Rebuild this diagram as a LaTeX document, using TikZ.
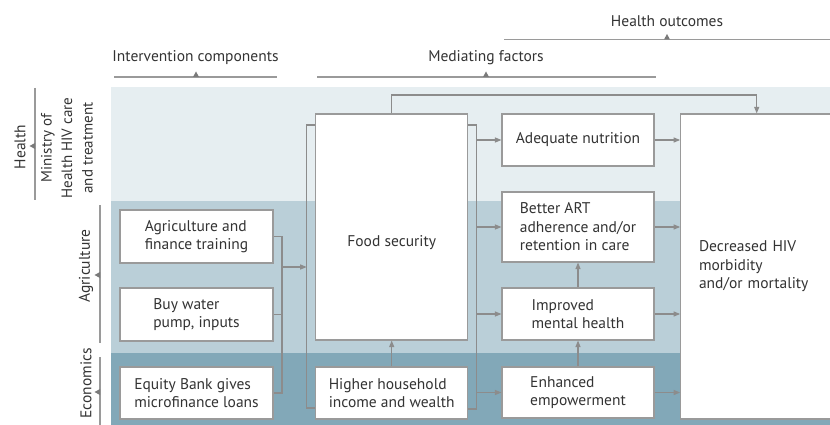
\documentclass[tikz,border=0pt]{standalone}
\usepackage{fontspec}
\setmainfont{PT Sans}
\usetikzlibrary{arrows.meta}
\definecolor{bandA}{HTML}{E6EEF1}
\definecolor{bandB}{HTML}{BACFD8}
\definecolor{bandC}{HTML}{82A8B8}
\definecolor{linec}{HTML}{8C8C8C}
\definecolor{boxc}{HTML}{9A9A9A}
\definecolor{markc}{HTML}{7A7A7A}
\definecolor{txt}{HTML}{333333}
\begin{document}
\begin{tikzpicture}[x=1pt,y=-1pt,
  font=\fontsize{15.5}{18.5}\selectfont,
  box/.style={draw=boxc, fill=white, line width=1.1pt, inner sep=0pt, align=left, text=txt},
  ln/.style={draw=linec, line width=1.1pt},
  arr/.style={ln, -{Triangle[length=6.5pt,width=5pt]}},
  hdr/.style={text=txt, inner sep=0pt},
  mk/.style={fill=markc}
]
\useasboundingbox (0,0) rectangle (830,425);
% bands
\fill[bandA] (111,87) rectangle (830,201);
\fill[bandB] (111,201) rectangle (830,353);
\fill[bandC] (111,353) rectangle (830,425);

% header brackets
\draw[ln, draw=boxc] (504,39.5) -- (832,39.5);
\fill[mk] (664,39.5) -- (670,39.5) -- (667,34) -- cycle;
\node[hdr] (ho) at (667,21) {Health outcomes};
\draw[ln, draw=boxc] (114,77) -- (277,77);
\fill[mk] (193,77) -- (199,77) -- (196,71.5) -- cycle;
\node[hdr] (ic) at (195.5,58) {Intervention components};
\draw[ln, draw=boxc] (317,77) -- (656,77);
\fill[mk] (483,77) -- (489,77) -- (486,71.5) -- cycle;
\node[hdr] (mf) at (486,58) {Mediating factors};

% side brackets
\draw[ln, draw=boxc] (35,88) -- (35,200);
\fill[mk] (35,143) -- (35,149) -- (29.5,146) -- cycle;
\node[hdr, rotate=90] (hl) at (20,147) {Health};
\node[hdr, rotate=90, align=center, font=\fontsize{15}{20.5}\selectfont] (moh) at (67,148) {Ministry of\\Health HIV care\\and treatment};
\draw[ln, draw=boxc] (100,205) -- (100,343);
\fill[mk] (100,272) -- (100,278) -- (94.5,275) -- cycle;
\node[hdr, rotate=90] (ag) at (86,266) {Agriculture};
\draw[ln, draw=boxc] (100,357) -- (100,427);
\fill[mk] (100,389) -- (100,395) -- (94.5,392) -- cycle;
\node[hdr, rotate=90, anchor=east] (ec) at (86,348) {Economics};

% boxes
\node[box, minimum width=153pt, minimum height=53pt] (agr) at (196.5,236.5) {Agriculture and\\finance training};
\node[box, minimum width=153pt, minimum height=53pt] (buy) at (196.5,314.5) {Buy water\\pump, inputs};
\node[box, minimum width=153pt, minimum height=52pt] (eq) at (196.5,393) {Equity Bank gives\\microfinance loans};
\node[box, minimum width=152pt, minimum height=226pt] (food) at (391.7,227) {};
\node[text=txt, inner sep=0pt] (foodt) at (391.7,243) {Food security};
\node[box, minimum width=152pt, minimum height=52pt] (inc) at (391.7,393) {Higher household\\income and wealth};
\node[box, minimum width=152pt, minimum height=52pt] (nut) at (578,140) {Adequate nutrition};
\node[box, minimum width=152pt, minimum height=70pt] (art) at (578,227) {Better ART\\adherence and/or\\retention in care};
\node[box, minimum width=152pt, minimum height=52pt] (men) at (578,314) {Improved\\mental health};
\node[box, minimum width=152pt, minimum height=51pt] (emp) at (578,392.5) {Enhanced\\empowerment};
\node[box, minimum width=160pt, minimum height=305pt, text width=123.4pt] (dec) at (760.7,266.5) {Decreased HIV\\morbidity\\and/or mortality};

% left bracket (agriculture/economics inputs)
\coordinate (abx) at (282,267);
\draw[ln] (agr.east) -- (abx |- agr.east) -- (abx |- eq.east) -- (eq.east);
\draw[ln] (buy.east) -- (abx |- buy.east);
\coordinate (lbt) at (306.7,125);
\coordinate (lbb) at (306.7,408);
\draw[arr] (abx) -- (lbt |- abx);
\draw[ln] (food.west |- lbt) -- (lbt) -- (lbb) -- (inc.west |- lbb);
\draw[arr] (inc.north) -- (food.south);

% right bracket
\coordinate (rbt) at (476.5,125);
\coordinate (rbb) at (476.5,409);
\draw[ln] (food.east |- rbt) -- (rbt) -- (rbb) -- (inc.east |- rbb);
\draw[arr] (rbt |- nut.west) -- (nut.west);
\draw[arr] (rbt |- art.west) -- (art.west);
\draw[arr] (rbt |- men.west) -- (men.west);
\draw[arr] (rbt |- emp.west) -- (emp.west);
\draw[arr] (emp.north) -- (men.south);
\draw[arr] (men.north) -- (art.south);

% to outcome
\draw[arr] (nut.east) -- (dec.west |- nut.east);
\draw[arr] (art.east) -- (dec.west |- art.east);
\draw[arr] (men.east) -- (dec.west |- men.east);
\draw[arr] (emp.east) -- (dec.west |- emp.east);
\coordinate (tp) at (756.7,95);
\draw[arr] (food.north) |- (tp) -- (tp |- dec.north);
\end{tikzpicture}
\end{document}
